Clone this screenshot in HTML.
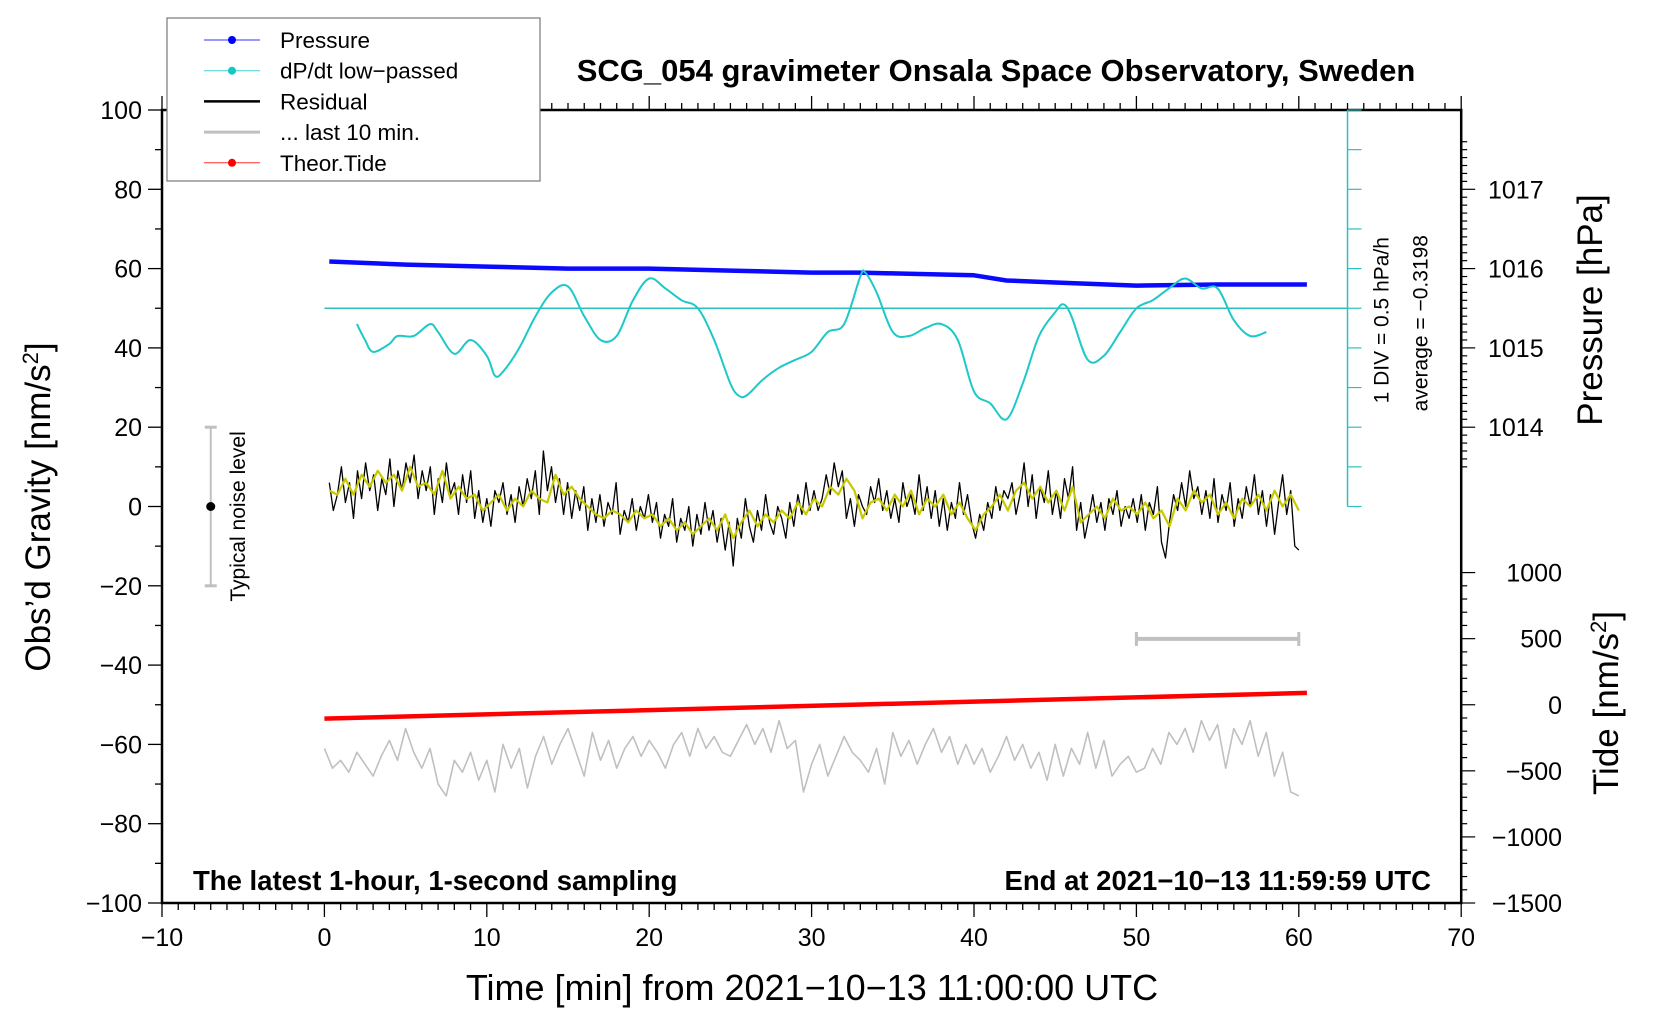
<!DOCTYPE html>
<html><head><meta charset="utf-8"><style>
html,body{margin:0;padding:0;background:#fff}
svg{display:block;font-family:"Liberation Sans",sans-serif}
</style></head><body>
<svg id="c" width="1660" height="1020" viewBox="0 0 1660 1020">
<g id="g"></g>
</svg>
<script>
const xTicks=[-10,0,10,20,30,40,50,60,70];
const yTicks=[100,80,60,40,20,0,-20,-40,-60,-80,-100];
const pTicks=[1014,1015,1016,1017];
const tideTicks=[1000,500,0,-500,-1000,-1500];
const pressT=[0.3,5,10,15,20,25,30,33,35,40,42,45,50,55,60.5];
const pressV=[61.8,61,60.5,60,60,59.5,59,59,58.8,58.3,57,56.5,55.7,56,56];
const dpT=[2,2.5,3,4,4.5,5.5,6.5,7,8,9,10,10.5,11,12,13,14,15,16,17,18,19,20,21,22,23,24,25,25.5,26,27,28,29,30,31,32,33,33.3,34,35,36,37,38,39,40,41,42,43,44,45,45.5,46,47,48,49,50,51,52,53,54,55,56,57,58];
const dpV=[46,42,39,41,43,43,46,44,38.5,42,38,33,34,40,48,54,55.5,48,42,43,52,57.5,55,52,50,42,31,28,28,32,35,37,39,44,46,58,59,54,44,43,45,46,42,29,26,22,31,43,49,51,48,37,38,44,50,52,55,57.5,55,55,47,43,44];
const resid=[6,-1,3,10,1,6,-3,9,2,11,4,8,-1,7,3,12,0,9,4,11,
6,13,2,9,4,10,-2,7,1,11,3,6,-2,8,1,9,-3,4,-4,2,
-5,4,1,6,-2,3,-4,5,0,7,2,9,-2,14,4,10,1,7,-2,6,
-3,4,-1,5,-6,2,-4,3,-5,1,-2,6,-7,-1,-4,2,-6,0,-3,3,
-4,1,-8,-2,-5,2,-9,-3,-6,0,-10,-2,-7,1,-6,-1,-9,-3,-11,-4,
-15,-3,-8,2,-5,-9,-1,-6,3,-4,-7,0,-3,-8,1,-5,3,-2,6,-1,
4,-1,2,8,3,11,5,9,-3,2,-5,3,0,-2,5,1,7,-1,4,-3,
2,-4,6,0,3,-2,8,-1,5,-3,4,-5,2,-6,1,-3,6,-2,3,-4,
-8,-2,-6,1,-3,5,-1,4,2,6,-2,3,11,0,8,-3,5,1,9,-2,
4,-3,7,2,10,-6,1,-8,-3,3,-4,1,-6,2,-2,4,-5,0,-3,2,
-4,3,-6,1,-2,5,-9,-13,-4,3,-1,6,0,9,2,5,-2,4,-3,7,
-4,3,-1,6,-5,2,-3,5,0,8,-2,4,-5,3,-7,1,8,-2,4,-10,-11];
const smooth=[4,3,7,3,8,5,9,6,8,4,10,5,6,3,9,2,5,2,3,-1,
1,3,-1,2,0,4,2,1,8,3,5,2,0,-2,-3,-1,-2,-4,-1,-3,
-2,-5,-3,-6,-4,-7,-5,-3,-6,-2,-8,-4,-1,-5,-2,-4,-1,-3,1,-2,
2,0,5,3,7,4,-3,1,2,-1,3,0,4,-2,2,0,3,-2,1,-3,
-6,-2,0,3,-1,4,6,2,5,1,4,-1,5,-4,-2,0,-3,2,-1,0,
-2,1,-3,-1,-5,2,-1,4,1,3,-2,1,-3,2,0,3,-1,4,0,3,-1];
const last10=[-61,-66,-64,-67,-62,-65,-68,-63,-59,-64,-56,-62,-66,-61,-70,-73,-64,-67,-62,-69,
-64,-72,-60,-66,-61,-71,-63,-58,-65,-60,-56,-62,-68,-57,-64,-59,-66,-61,-58,-63,
-59,-62,-66,-60,-57,-63,-56,-61,-58,-62,-63,-59,-55,-60,-56,-62,-54,-61,-59,-72,
-65,-60,-68,-63,-58,-62,-64,-67,-61,-70,-57,-63,-59,-65,-60,-56,-62,-58,-65,-60,
-65,-61,-67,-63,-58,-64,-60,-66,-62,-69,-60,-68,-61,-65,-57,-66,-59,-68,-65,-63,
-67,-66,-61,-65,-57,-60,-56,-62,-54,-59,-55,-66,-56,-60,-54,-63,-57,-68,-62,-72,-73];
const tideT=[0,60.5];
const tideV=[-53.5,-47];

const X=t=>162+(t+10)*16.24, Y=v=>110+(100-v)*3.965;
const P=p=>Y((p-1013)*20), TD=v=>Y(v/30-50);
const NS="http://www.w3.org/2000/svg", G=document.getElementById('g');
function mk(tag,at,txt){const e=document.createElementNS(NS,tag);for(const k in at)e.setAttribute(k,at[k]);if(txt!=null)e.textContent=txt;G.appendChild(e);return e;}
function line(x1,y1,x2,y2,s,w){return mk('line',{x1,y1,x2,y2,stroke:s,'stroke-width':w});}
function path(ts,vs,s,w){let d='';ts.forEach((t,i)=>{d+=(i?'L':'M')+X(t).toFixed(1)+','+Y(vs[i]).toFixed(1);});return mk('path',{d,fill:'none',stroke:s,'stroke-width':w,'stroke-linejoin':'round'});}
function curve(ts,vs,s,w){const p=ts.map((t,i)=>[X(t),Y(vs[i])]);let d='M'+p[0][0].toFixed(1)+','+p[0][1].toFixed(1);
for(let i=0;i<p.length-1;i++){const p0=p[Math.max(0,i-1)],p1=p[i],p2=p[i+1],p3=p[Math.min(p.length-1,i+2)];
const c1=[p1[0]+(p2[0]-p0[0])/6,p1[1]+(p2[1]-p0[1])/6],c2=[p2[0]-(p3[0]-p1[0])/6,p2[1]-(p3[1]-p1[1])/6];
d+='C'+c1.map(v=>v.toFixed(1)).join(',')+' '+c2.map(v=>v.toFixed(1)).join(',')+' '+p2.map(v=>v.toFixed(1)).join(',');}
return mk('path',{d,fill:'none',stroke:s,'stroke-width':w});}
function txt(x,y,s,o){const e=mk('text',Object.assign({x,y,'font-size':25},o||{}),s);return e;}

let e;
e=mk('rect',{x:X(-10),y:Y(100),width:X(70)-X(-10),height:Y(-100)-Y(100),fill:'none',stroke:'#000','stroke-width':2.5});

for(let t=-10;t<=70;t++){const maj=t%10==0;line(X(t),Y(-100),X(t),Y(-100)+(maj?14:7),'#000',1.3);line(X(t),Y(100),X(t),Y(100)-(maj?14:7),'#000',1.3);}
xTicks.forEach(t=>{e=txt(X(t),946,(t<0?'\u2212':'')+Math.abs(t),{'text-anchor':'middle'});});
for(let v=-100;v<=100;v+=10){line(X(-10),Y(v),X(-10)-(v%20==0?14:7),Y(v),'#000',1.3);}
yTicks.forEach(v=>{e=txt(X(-10)-20,Y(v)+9,(v<0?'\u2212':'')+Math.abs(v),{'text-anchor':'end'});});
for(let p=1013.5;p<=1017.7;p+=0.1){const maj=Math.abs(p-Math.round(p))<0.01;const y=P(p);if(y<Y(100)-1)continue;line(X(70),y,X(70)+(maj?14:6),y,'#000',1.2);}
pTicks.forEach(p=>{e=txt(1488,P(p)+9,String(p));});
for(let v=-1500;v<=1000;v+=100){line(X(70),TD(v),X(70)+(v%500==0?14:6),TD(v),'#000',1.2);}
tideTicks.forEach(v=>{e=txt(1562,TD(v)+9,(v<0?'\u2212':'')+Math.abs(v),{'text-anchor':'end'});});

line(X(63),Y(100),X(63),Y(0),'#2cc0c0',1.5);
for(let v=0;v<=100;v+=10)line(X(63),Y(v),X(63)+14,Y(v),'#2cc0c0',1.2);
line(X(0),Y(50),X(63),Y(50),'#2cc0c0',1.5);
e=txt(0,0,'1 DIV = 0.5 hPa/h',{'font-size':21,transform:`translate(${X(63)+41},${Y(26)}) rotate(-90)`});
e=txt(0,0,'average = \u22120.3198',{'font-size':21,transform:`translate(${X(63)+80},${Y(24)}) rotate(-90)`});

e=path(pressT,pressV,'#0a0aff',4.5);
e=curve(dpT,dpV,'#1ec8c8',2);
e=path(resid.map((_,i)=>0.3+i*0.25*59.7/60),resid,'#000',1.3);
e=path(smooth.map((_,i)=>0.3+i*0.5*59.7/60),smooth,'#c8c800',2.2);
e=path(last10.map((_,i)=>i*0.5),last10,'#c0c0c0',1.6);
e=path(tideT,tideV,'#ff0000',4.5);
line(X(50),Y(-33.4),X(60),Y(-33.4),'#c0c0c0',4);line(X(50),Y(-33.4)-7,X(50),Y(-33.4)+7,'#c0c0c0',3);line(X(60),Y(-33.4)-7,X(60),Y(-33.4)+7,'#c0c0c0',3);
line(X(-7),Y(20),X(-7),Y(-20),'#c0c0c0',2);line(X(-7)-6,Y(20),X(-7)+6,Y(20),'#c0c0c0',3);line(X(-7)-6,Y(-20),X(-7)+6,Y(-20),'#c0c0c0',3);
mk('circle',{cx:X(-7),cy:Y(0),r:4.5,fill:'#000'});
e=txt(0,0,'Typical noise level',{'font-size':21,transform:`translate(${X(-4.9)},${Y(-24)}) rotate(-90)`});

e=txt(996,81,'SCG_054 gravimeter Onsala Space Observatory, Sweden',{'font-size':31,'font-weight':'bold','text-anchor':'middle'});
e=txt(193,890,'The latest 1-hour, 1-second sampling',{'font-size':27.5,'font-weight':'bold'});
e=txt(1431,890,'End at 2021\u221210\u221213 11:59:59 UTC',{'font-size':27.5,'font-weight':'bold','text-anchor':'end'});
e=txt(812,1000,'Time [min] from 2021\u221210\u221213 11:00:00 UTC',{'font-size':36,'text-anchor':'middle'});
e=mk('text',{'font-size':35,'text-anchor':'middle',transform:`translate(50,507) rotate(-90)`});e.innerHTML='Obs\u2019d Gravity [nm/s<tspan dy="-12" font-size="22">2</tspan><tspan dy="12">]</tspan>';
e=mk('text',{'font-size':35,'text-anchor':'middle',transform:`translate(1602,310) rotate(-90)`},'Pressure [hPa]');
e=mk('text',{'font-size':35,'text-anchor':'middle',transform:`translate(1618,703) rotate(-90)`});e.innerHTML='Tide [nm/s<tspan dy="-12" font-size="22">2</tspan><tspan dy="12">]</tspan>';

e=mk('rect',{x:167,y:18,width:373,height:163,fill:'#fff',stroke:'#777','stroke-width':1.2});
const lg=[['Pressure','#3030ff',1,true],['dP/dt low\u2212passed','#40d0d0',1,true],['Residual','#000',2.5,false],['... last 10 min.','#c0c0c0',3,false],['Theor.Tide','#ff3030',1,true]];
lg.forEach((l,i)=>{const y=40+i*30.7;line(204,y,260,y,l[1],l[2]);if(l[3])mk('circle',{cx:232,cy:y,r:4,fill:l[1]==='#3030ff'?'#0000ff':l[1]==='#ff3030'?'#ff0000':'#10c8c8'});
e=txt(280,y+8,l[0],{'font-size':22.5});});
</script>
</body></html>
